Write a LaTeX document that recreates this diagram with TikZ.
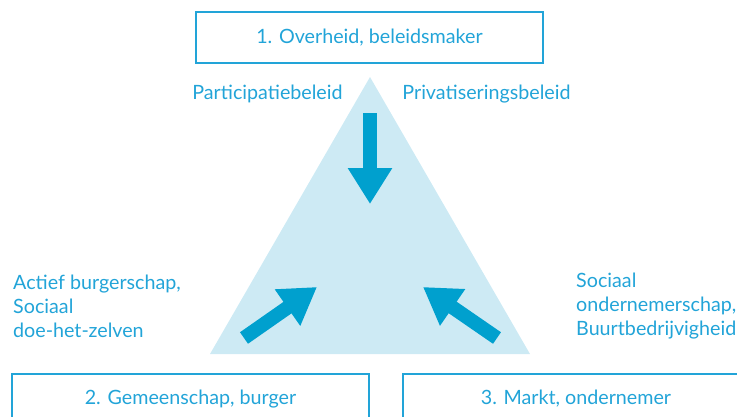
\documentclass[tikz,border=0pt]{standalone}
\usepackage{fontspec}
\setmainfont{Lato}
\usepackage{tikz}
\usetikzlibrary{arrows.meta}
\definecolor{lineblue}{HTML}{22A4D8}
\definecolor{arrowblue}{HTML}{00A0CE}
\definecolor{triblue}{HTML}{CDEAF4}

\begin{document}
\begin{tikzpicture}[x=1pt,y=-1pt,
	actor/.style={draw=lineblue,line width=2pt,rectangle,align=center,text=lineblue,font=\fontsize{19.7}{24}\selectfont,minimum height=51pt},
	lbl/.style={text=lineblue,align=left,inner sep=0pt,font=\fontsize{19.7}{24}\selectfont},
	push/.style={arrowblue,line width=14pt,-{Triangle[width=42pt,length=36pt]}}]
\useasboundingbox (0,0) rectangle (737,416);
\clip (0,0) rectangle (737,416);
\fill[triblue] (370,77) -- (210,354) -- (530,354) -- cycle;
\node[actor,minimum width=347pt](gov)  at (369.5,37.5){1. Overheid, beleidsmaker};
\node[actor,minimum width=357pt](comm)  at (190.5,399){2. Gemeenschap, burger};
\node[actor,minimum width=346pt](mkt)  at (576,399){3. Markt, ondernemer};
	\node[lbl](part)  at (267.5,94){Participatiebeleid};
	\node[lbl](priv)  at (486.5,94){Privatiseringsbeleid};
	\node[lbl,anchor=west](civic)  at (13,306){Actief burgerschap,\\ Sociaal\\ doe-het-zelven};
	\node[lbl,anchor=west](enterp)  at (576,306){Sociaal\\ ondernemerschap,\\ Buurtbedrijvigheid};
	\coordinate (t1) at (370,113);
	\coordinate (h1) at (370,204);
	\coordinate (t2) at (244,338);
	\coordinate (h2) at (317,287);
	\coordinate (t3) at (497,338);
	\coordinate (h3) at (423,287);
	\draw[push] (t1) -- (h1);
	\draw[push] (t2) -- (h2);
	\draw[push] (t3) -- (h3);
\end{tikzpicture}
\end{document}
